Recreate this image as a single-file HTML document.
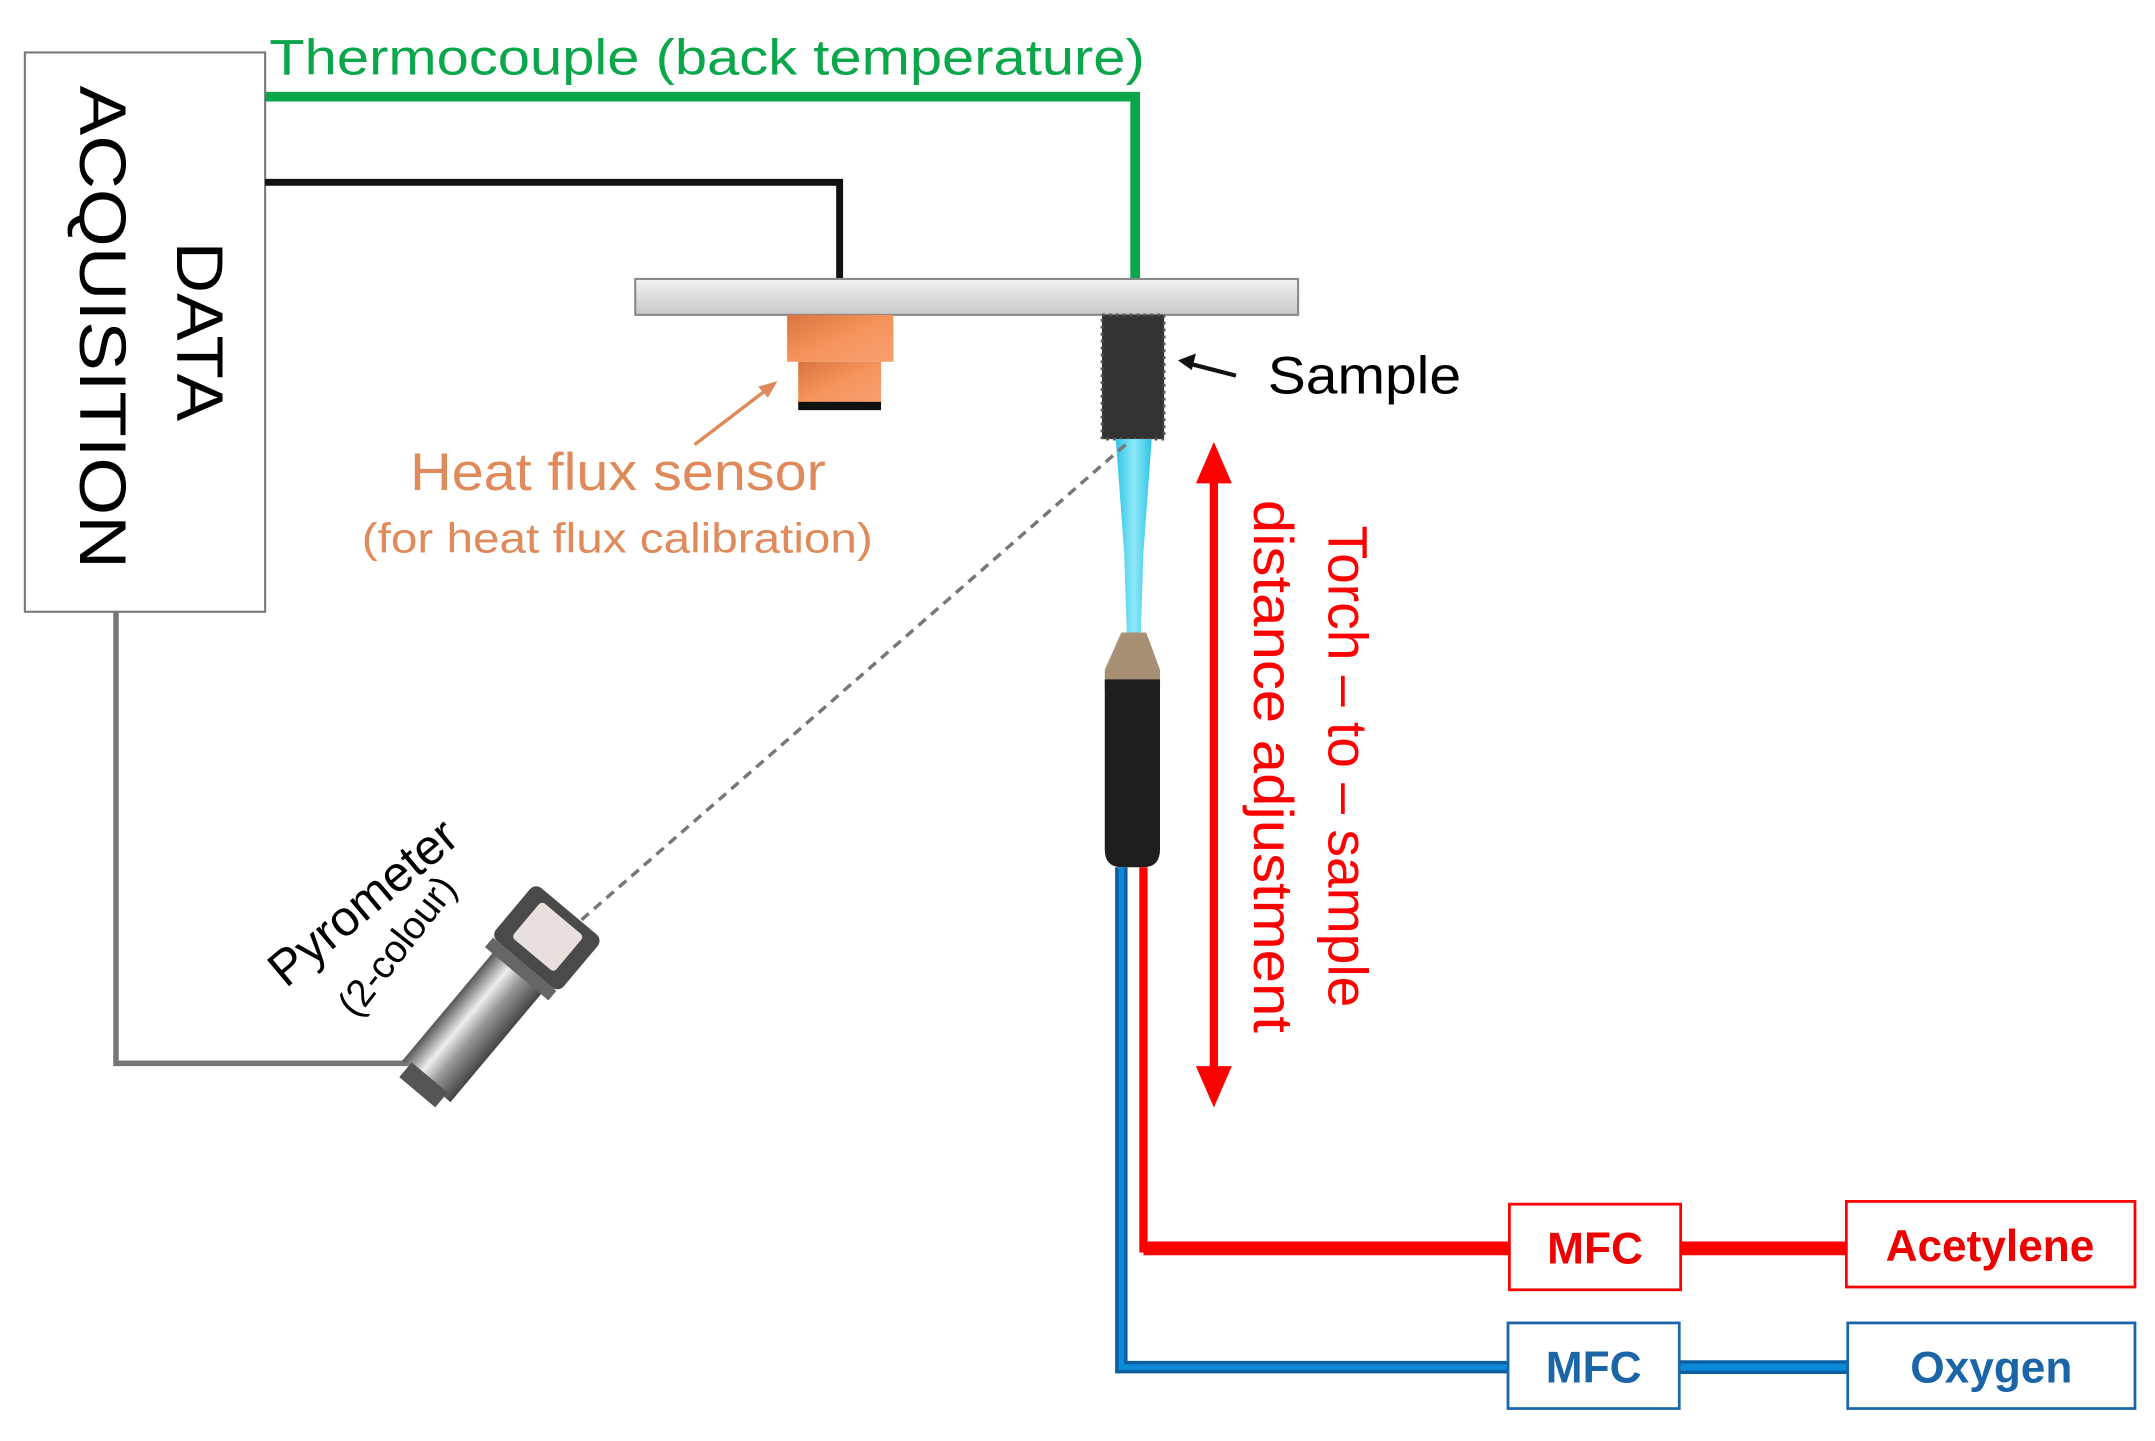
<!DOCTYPE html>
<html><head><meta charset="utf-8"><style>html,body{margin:0;padding:0;background:#fff}svg{display:block}text{font-family:"Liberation Sans",sans-serif}</style></head>
<body>
<svg width="2155" height="1441" viewBox="0 0 1560.5 1043.5" preserveAspectRatio="none" xmlns="http://www.w3.org/2000/svg">
<defs>
<linearGradient id="pl" x1="0" y1="0" x2="0" y2="1"><stop offset="0" stop-color="#f2f2f2"/><stop offset="1" stop-color="#c8c8c8"/></linearGradient>
<linearGradient id="or" x1="0" y1="0" x2="1" y2="1"><stop offset="0" stop-color="#d9743f"/><stop offset=".5" stop-color="#f5935c"/><stop offset="1" stop-color="#f7a070"/></linearGradient>
<linearGradient id="fl" x1="0" y1="0" x2="1" y2="0"><stop offset="0" stop-color="#2fc4e6"/><stop offset=".5" stop-color="#8ee8f8"/><stop offset="1" stop-color="#2fc4e6"/></linearGradient>
<linearGradient id="py" x1="0" y1="0" x2="0" y2="1"><stop offset="0" stop-color="#555"/><stop offset=".35" stop-color="#eee"/><stop offset=".6" stop-color="#999"/><stop offset="1" stop-color="#444"/></linearGradient>
</defs>
<rect x="18" y="38" width="174" height="405" fill="#fff" stroke="#777" stroke-width="1.5"/>
<text transform="translate(128,240) rotate(90)" font-size="48" text-anchor="middle" textLength="130" lengthAdjust="spacingAndGlyphs">DATA</text>
<text transform="translate(58,237) rotate(90)" font-size="48" text-anchor="middle" textLength="350" lengthAdjust="spacingAndGlyphs">ACQUISITION</text>
<text x="195" y="54" font-size="36" fill="#0aa64a" textLength="634" lengthAdjust="spacingAndGlyphs">Thermocouple (back temperature)</text>
<polyline points="192,70 822,70 822,230" fill="none" stroke="#0aa64a" stroke-width="7"/>
<polyline points="192,132 608,132 608,230" fill="none" stroke="#111" stroke-width="5"/>
<rect x="460" y="202" width="480" height="26" fill="url(#pl)" stroke="#888" stroke-width="1.5"/>
<rect x="570" y="228" width="77" height="34" fill="url(#or)"/>
<rect x="578" y="262" width="60" height="30" fill="url(#or)"/>
<rect x="578" y="291" width="60" height="6" fill="#111"/>
<line x1="503" y1="322" x2="558" y2="280" stroke="#e0895a" stroke-width="2.5"/>
<polygon points="563,276 549,280 556,288" fill="#e0895a"/>
<text x="297" y="355" font-size="38" fill="#e0895a" textLength="301" lengthAdjust="spacingAndGlyphs">Heat flux sensor</text>
<text x="262" y="400" font-size="30" fill="#e0895a" textLength="370" lengthAdjust="spacingAndGlyphs">(for heat flux calibration)</text>
<rect x="798" y="228" width="45" height="90" fill="#333"/>
<rect x="798" y="228" width="45" height="90" fill="none" stroke="#555" stroke-width="2" stroke-dasharray="2 3"/>
<line x1="895" y1="272" x2="860" y2="263" stroke="#111" stroke-width="3"/>
<polygon points="853,261 866,256 863,268" fill="#111"/>
<text x="918" y="285" font-size="38" textLength="140" lengthAdjust="spacingAndGlyphs">Sample</text>
<path d="M808,318 L834,318 L828,400 L826,460 L816,460 L814,400 Z" fill="url(#fl)"/>
<path d="M812,458 L830,458 L840,485 L840,500 L800,500 L800,485 Z" fill="#a89074"/>
<path d="M800,492 L840,492 L840,615 Q840,628 828,628 L812,628 Q800,628 800,615 Z" fill="#1e1e1e"/>
<polyline points="812,628 812,990 1092,990" fill="none" stroke="#0a5fa0" stroke-width="9"/>
<polyline points="812,628 812,990 1092,990" fill="none" stroke="#0a8ad8" stroke-width="4"/>
<line x1="1216" y1="990" x2="1338" y2="990" stroke="#0a5fa0" stroke-width="10"/>
<line x1="1216" y1="990" x2="1338" y2="990" stroke="#0a8ad8" stroke-width="5"/>
<polyline points="828,628 828,904 1093,904" fill="none" stroke="#f00" stroke-width="6"/>
<line x1="828" y1="904" x2="1093" y2="904" stroke="#f00" stroke-width="10"/>
<line x1="1217" y1="904" x2="1337" y2="904" stroke="#f00" stroke-width="10"/>
<rect x="1093" y="872" width="124" height="62" fill="#fff" stroke="#f00" stroke-width="2"/>
<rect x="1337" y="870" width="209" height="62" fill="#fff" stroke="#f00" stroke-width="2"/>
<rect x="1092" y="958" width="124" height="62" fill="#fff" stroke="#1a64a8" stroke-width="2"/>
<rect x="1338" y="958" width="208" height="62" fill="#fff" stroke="#1a64a8" stroke-width="2"/>
<text x="1155" y="915" font-size="32" font-weight="bold" fill="#e00" text-anchor="middle">MFC</text>
<text x="1441" y="913" font-size="32" font-weight="bold" fill="#e00" text-anchor="middle">Acetylene</text>
<text x="1154" y="1001" font-size="32" font-weight="bold" fill="#1a64a8" text-anchor="middle">MFC</text>
<text x="1442" y="1001" font-size="32" font-weight="bold" fill="#1a64a8" text-anchor="middle">Oxygen</text>
<line x1="879" y1="340" x2="879" y2="780" stroke="#f00" stroke-width="6"/>
<polygon points="879,320 866,350 892,350" fill="#f00"/>
<polygon points="879,802 866,772 892,772" fill="#f00"/>
<text transform="translate(962,555) rotate(90)" font-size="40" fill="#f00" text-anchor="middle">Torch – to – sample</text>
<text transform="translate(908,555) rotate(90)" font-size="40" fill="#f00" text-anchor="middle" textLength="386" lengthAdjust="spacingAndGlyphs">distance adjustment</text>
<polyline points="84,443 84,770 305,770" fill="none" stroke="#777" stroke-width="4"/>
<line x1="815" y1="322" x2="412" y2="674" stroke="#777" stroke-width="2.5" stroke-dasharray="7 5"/>
<g transform="translate(360,722) rotate(-50)">
<rect x="-80" y="-23" width="105" height="46" fill="url(#py)"/>
<rect x="-90" y="-17" width="14" height="34" fill="#555"/>
<rect x="22" y="-30" width="9" height="60" fill="#666"/>
<rect x="31" y="-32" width="50" height="64" rx="6" fill="#4a4a4a"/>
<rect x="40" y="-20" width="34" height="40" rx="3" fill="#e8e0dc"/>
</g>
<text transform="translate(207,716) rotate(-40)" font-size="36">Pyrometer</text>
<text transform="translate(258,738) rotate(-52)" font-size="28">(2-colour)</text>
</svg>
</body></html>
